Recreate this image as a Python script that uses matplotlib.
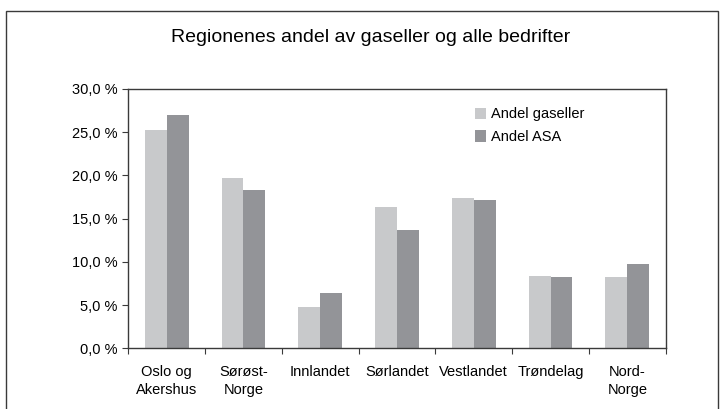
import matplotlib

matplotlib.use("Agg")
import matplotlib.pyplot as plt
import numpy as np
from matplotlib.patches import Rectangle
from matplotlib.ticker import FuncFormatter, FixedLocator

plt.rcParams["font.family"] = ["Liberation Sans", "DejaVu Sans"]

regions = ["Oslo og\nAkershus", "Sørøst-\nNorge", "Innlandet", "Sørlandet",
           "Vestlandet", "Trøndelag", "Nord-\nNorge"]
andel_gaseller = [25.3, 19.7, 4.8, 16.4, 17.4, 8.4, 8.2]
andel_asa = [27.0, 18.3, 6.4, 13.7, 17.1, 8.3, 9.7]

LIGHT = "#c8c9cb"
DARK = "#939498"
EDGE = "#3a3a3a"

fig = plt.figure(figsize=(7.23, 4.09), dpi=100)
W, H = 723, 409
ax = fig.add_axes([128.3 / W, 1 - 348.3 / H, (665.7 - 128.3) / W, (348.3 - 89) / H])

x = np.arange(len(regions))
width = 0.286
ax.bar(x - width / 2, andel_gaseller, width=width, color=LIGHT, label="Andel gaseller")
ax.bar(x + width / 2, andel_asa, width=width, color=DARK, label="Andel ASA")

ax.set_xlim(-0.5, len(regions) - 0.5)
ax.set_ylim(0, 30)
ax.set_yticks(np.arange(0, 31, 5))
ax.yaxis.set_major_formatter(FuncFormatter(lambda v, _: f"{v:.1f} %".replace(".", ",")))
ax.xaxis.set_major_locator(FixedLocator(np.arange(-0.5, len(regions), 1.0)))
ax.set_xticklabels([])
ax.xaxis.set_minor_locator(FixedLocator(x))
ax.set_xticklabels(regions, minor=True, fontsize=10.5, linespacing=1.4)
ax.tick_params(axis="x", which="minor", length=0, pad=12)
ax.tick_params(axis="x", which="major", length=4, direction="out", color=EDGE)
ax.tick_params(axis="y", length=4, direction="out", color=EDGE, labelsize=10.5, pad=4)

for side in ["left", "bottom", "top", "right"]:
    ax.spines[side].set_color(EDGE)
    ax.spines[side].set_linewidth(1.0)

ax.legend(loc="upper left", bbox_to_anchor=(0.62, 0.98), frameon=False, fontsize=10.5,
          handlelength=0.8, handleheight=0.8, handletextpad=0.3, labelspacing=0.6)

fig.text(371 / W, 1 - 38 / H, "Regionenes andel av gaseller og alle bedrifter",
         ha="center", va="center", fontsize=14)

fig.patches.append(Rectangle((6 / W, -0.05), (718 - 6) / W, (1 - 11 / H) + 0.05,
                             transform=fig.transFigure, fill=False,
                             edgecolor=EDGE, linewidth=1.0))

fig.savefig("out.png", dpi=100)
